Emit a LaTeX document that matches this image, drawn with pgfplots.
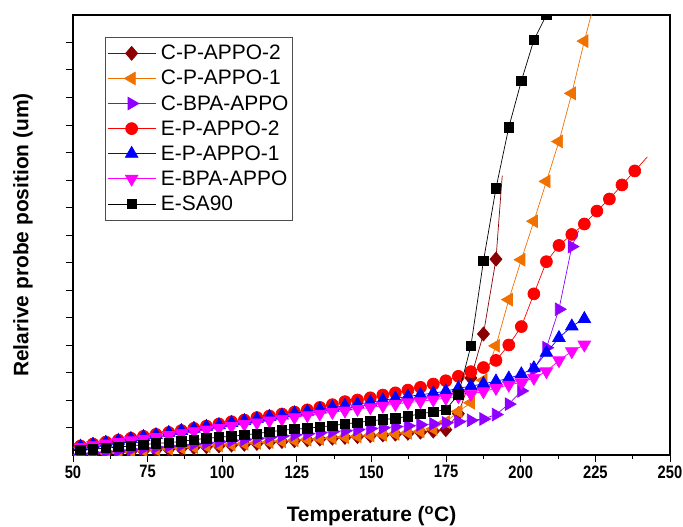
\documentclass[border=0pt]{standalone}
\usepackage{fontspec}
\setmainfont{Liberation Sans}
\usepackage{pgfplots}
\usepackage{pgfplotstable}
\pgfplotsset{compat=1.18}
\definecolor{cdr}{RGB}{139,0,0}
\definecolor{cor}{RGB}{240,112,0}
\definecolor{cpu}{RGB}{145,0,255}
\definecolor{cmg}{RGB}{255,0,255}

\pgfplotstableread{
T v
48.3 0.0
52.5 0.0
56.7 0.03
61.0 0.06
65.2 0.09
69.4 0.12
73.6 0.15
77.8 0.18
82.1 0.21
86.3 0.24
90.5 0.27
94.7 0.30
98.9 0.33
103.1 0.36
107.4 0.39
111.6 0.42
115.8 0.46
120.0 0.49
124.2 0.52
128.5 0.55
132.7 0.58
136.9 0.61
141.1 0.64
145.3 0.67
149.6 0.70
153.8 0.73
158.0 0.76
162.2 0.79
166.4 0.83
170.7 0.87
174.9 0.92
179.1 1.5
183.3 2.8
187.5 4.4
191.7 7.12
}\cpaone

\pgfplotstableread{
T v
48.3 0.0
52.5 0.02
56.7 0.05
61.0 0.08
65.2 0.11
69.4 0.14
73.6 0.17
77.8 0.20
82.1 0.23
86.3 0.26
90.5 0.29
94.7 0.32
98.9 0.35
103.1 0.38
107.4 0.41
111.6 0.44
115.8 0.47
120.0 0.50
124.2 0.53
128.5 0.56
132.7 0.59
136.9 0.62
141.1 0.65
145.3 0.68
149.6 0.71
153.8 0.74
158.0 0.77
162.2 0.81
166.4 0.86
170.7 0.95
174.9 1.20
179.1 1.58
183.3 1.90
187.5 2.72
191.7 3.97
196.0 5.65
200.2 7.1
204.4 8.5
208.6 9.95
212.8 11.4
217.1 13.15
221.3 15.05
}\cpatwo

\pgfplotstableread{
T v
48.3 0.0
52.5 0.04
56.7 0.08
61.0 0.12
65.2 0.16
69.4 0.20
73.6 0.24
77.8 0.28
82.1 0.32
86.3 0.36
90.5 0.40
94.7 0.44
98.9 0.48
103.1 0.52
107.4 0.56
111.6 0.60
115.8 0.64
120.0 0.69
124.2 0.73
128.5 0.77
132.7 0.81
136.9 0.85
141.1 0.88
145.3 0.92
149.6 0.96
153.8 0.99
158.0 1.03
162.2 1.06
166.4 1.10
170.7 1.13
174.9 1.17
179.1 1.21
183.3 1.26
187.5 1.31
191.7 1.47
196.0 1.85
200.2 2.33
204.4 3.1
208.6 3.9
212.8 5.3
217.1 7.58
}\cbpa

\pgfplotstableread{
T v
48.3 0.27
52.5 0.33
56.7 0.40
61.0 0.47
65.2 0.54
69.4 0.61
73.6 0.68
77.8 0.75
82.1 0.82
86.3 0.89
90.5 0.97
94.7 1.05
98.9 1.13
103.1 1.21
107.4 1.27
111.6 1.36
115.8 1.42
120.0 1.49
124.2 1.56
128.5 1.64
132.7 1.73
136.9 1.83
141.1 1.94
145.3 2.00
149.6 2.08
153.8 2.18
158.0 2.26
162.2 2.36
166.4 2.46
170.7 2.58
174.9 2.70
179.1 2.86
183.3 3.03
187.5 3.18
191.7 3.44
196.0 4.0
200.2 4.67
204.4 5.86
208.6 7.03
212.8 7.62
217.1 8.02
221.3 8.4
225.5 8.87
229.7 9.31
233.9 9.82
238.2 10.33
}\epatwo

\pgfplotstableread{
T v
48.3 0.25
52.5 0.31
56.7 0.38
61.0 0.45
65.2 0.52
69.4 0.59
73.6 0.66
77.8 0.73
82.1 0.81
86.3 0.88
90.5 0.96
94.7 1.03
98.9 1.09
103.1 1.17
107.4 1.24
111.6 1.31
115.8 1.39
120.0 1.44
124.2 1.52
128.5 1.58
132.7 1.66
136.9 1.73
141.1 1.79
145.3 1.85
149.6 1.92
153.8 1.99
158.0 2.06
162.2 2.13
166.4 2.19
170.7 2.25
174.9 2.32
179.1 2.43
183.3 2.50
187.5 2.59
191.7 2.68
196.0 2.79
200.2 2.94
204.4 3.16
208.6 3.72
212.8 4.26
217.1 4.68
221.3 4.95
}\epaone

\pgfplotstableread{
T v
48.3 0.24
52.5 0.29
56.7 0.35
61.0 0.41
65.2 0.47
69.4 0.53
73.6 0.59
77.8 0.65
82.1 0.72
86.3 0.79
90.5 0.86
94.7 0.92
98.9 0.98
103.1 1.05
107.4 1.12
111.6 1.18
115.8 1.25
120.0 1.31
124.2 1.37
128.5 1.44
132.7 1.50
136.9 1.56
141.1 1.61
145.3 1.67
149.6 1.73
153.8 1.79
158.0 1.85
162.2 1.91
166.4 1.95
170.7 2.01
174.9 2.07
179.1 2.13
183.3 2.22
187.5 2.31
191.7 2.43
196.0 2.55
200.2 2.64
204.4 2.80
208.6 3.04
212.8 3.44
217.1 3.77
221.3 4.01
}\ebpa

\pgfplotstableread{
T v
48.3 0.15
52.5 0.18
56.7 0.21
61.0 0.25
65.2 0.29
69.4 0.33
73.6 0.38
77.8 0.42
82.1 0.45
86.3 0.49
90.5 0.56
94.7 0.60
98.9 0.65
103.1 0.68
107.4 0.73
111.6 0.78
115.8 0.84
120.0 0.90
124.2 0.94
128.5 0.97
132.7 1.02
136.9 1.07
141.1 1.13
145.3 1.18
149.6 1.24
153.8 1.29
158.0 1.33
162.2 1.41
166.4 1.50
170.7 1.57
174.9 1.65
179.1 2.20
183.3 3.97
187.5 7.05
191.7 9.70
196.0 11.92
200.2 13.6
204.4 15.09
208.6 16.0
}\esa

\begin{document}
\begin{tikzpicture}
\path[use as bounding box] (-73bp,-72bp) rectangle (610bp,455bp);
\begin{axis}[
  scale only axis, width=597bp, height=440bp,
  at={(0,0)}, anchor=south west,
  xmin=50, xmax=250, ymin=0, ymax=16,
  axis line style={line width=1.3pt},
  xtick={50,75,...,250},
  xticklabels={50,75,100,125,150,175,200,225,250},
  minor x tick num=1,
  ytick={1,...,15}, yticklabels={},
  xtick pos=bottom, ytick pos=left,
  tick align=outside,
  major tick length=7bp, minor tick length=4bp,
  tick style={line width=1pt, black},
  xticklabel style={font=\bfseries\fontsize{18}{18}\selectfont, xscale=0.82},
  xlabel={Temperature (\textsuperscript{o}C)},
  ylabel={Relarive probe position (um)},
  xlabel style={font=\bfseries\fontsize{21}{21}\selectfont, at={(axis description cs:0.5,-0.139)}, anchor=center},
  ylabel style={font=\bfseries\fontsize{21}{21}\selectfont, at={(axis description cs:-0.0838,0.5)}, anchor=center},
  clip marker paths=true,
  every axis plot/.append style={line width=0.7pt},
  legend cell align=left,
  legend style={at={(axis description cs:0.0536,0.95)}, anchor=north west,
    draw=black!70, line width=0.6pt, font=\fontsize{21}{24}\selectfont,
    inner xsep=2bp, inner ysep=6bp, row sep=5bp,
    /tikz/every odd column/.append style={column sep=3bp}},
  legend image code/.code={\draw[mark repeat=2,mark phase=2,#1] plot coordinates {(0bp,0bp) (24bp,0bp) (48bp,0bp)};},
]
\addplot[cdr, mark=diamond*, mark size=7, mark options={xscale=1.15, solid}] table[x=T,y=v] {\cpaone};
\addlegendentry{C-P-APPO-2}
\addplot[cor, mark=triangle*, mark size=7.3, mark options={rotate=90}] table[x=T,y=v] {\cpatwo};
\addlegendentry{C-P-APPO-1}
\addplot[cpu, mark=triangle*, mark size=7.3, mark options={rotate=-90}] table[x=T,y=v] {\cbpa};
\addlegendentry{C-BPA-APPO}
\addplot[red, mark=*, mark size=6] table[x=T,y=v] {\epatwo};
\addlegendentry{E-P-APPO-2}
\addplot[blue, mark=triangle*, mark size=7.3] table[x=T,y=v] {\epaone};
\addlegendentry{E-P-APPO-1}
\addplot[cmg, mark=triangle*, mark size=7.3, mark options={rotate=180}] table[x=T,y=v] {\ebpa};
\addlegendentry{E-BPA-APPO}
\addplot[black, mark=square*, mark size=4.7] table[x=T,y=v] {\esa};
\addlegendentry{E-SA90}
% line ends beyond the last marker
\addplot[cdr, forget plot] coordinates {(191.7,7.12) (193.8,10.16)};
\addplot[cor, forget plot] coordinates {(221.3,15.05) (225.5,16.8)};
\addplot[cpu, forget plot] coordinates {(217.1,7.58) (219.4,8.15)};
\addplot[red, forget plot] coordinates {(238.2,10.33) (242.4,10.84)};
\end{axis}
\end{tikzpicture}
\end{document}
